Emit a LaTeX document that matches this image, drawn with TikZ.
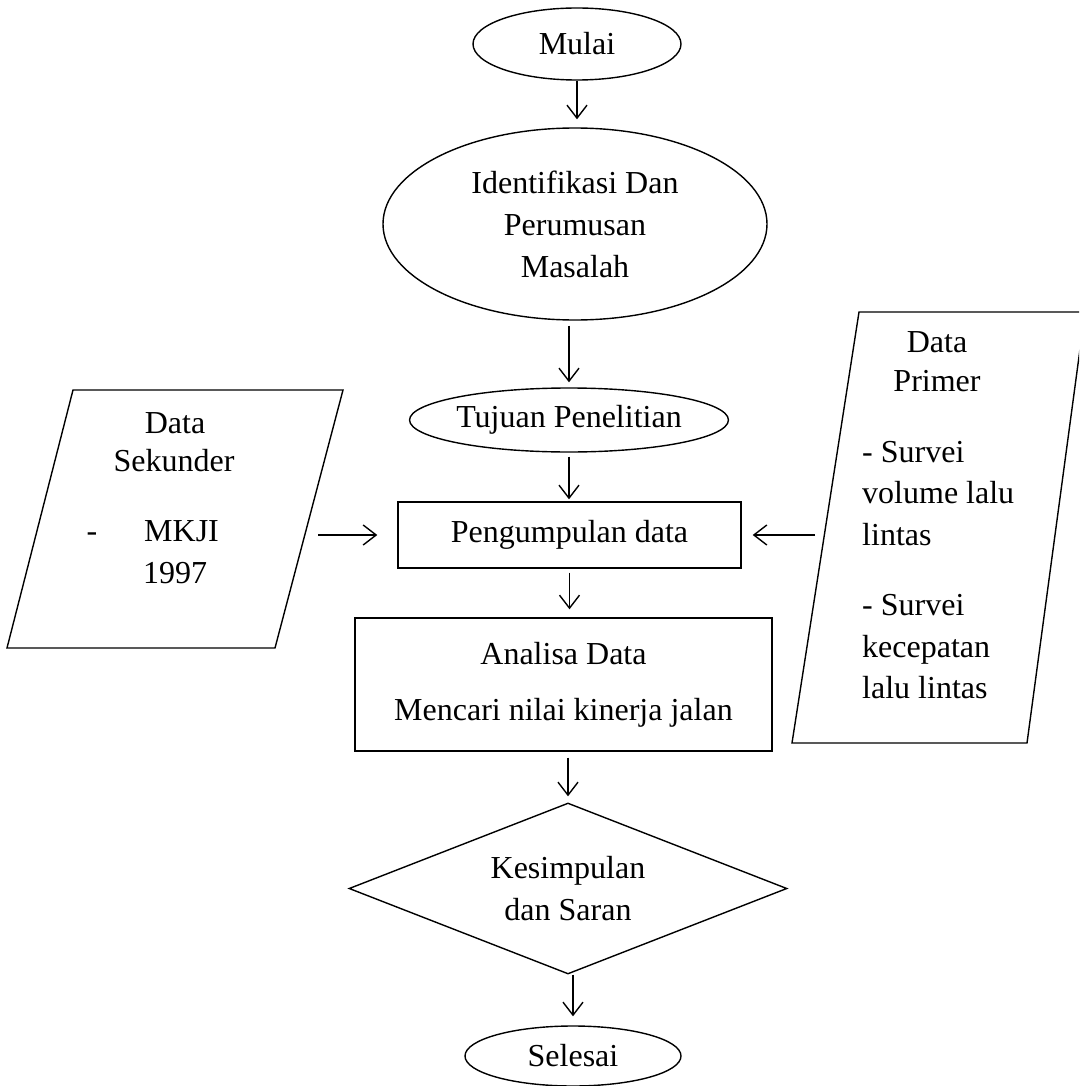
\documentclass[tikz,border=0pt]{standalone}
\usepackage{fontspec}
\setmainfont{Liberation Serif}
\usetikzlibrary{shapes.geometric,arrows.meta}
\begin{document}
\begin{tikzpicture}[x=1pt,y=-1pt,
  every node/.style={font=\fontsize{32}{42}\selectfont},
  outline/.style={draw, line width=1.4pt},
  box/.style={outline, inner sep=0pt},
  oval/.style={box, ellipse, align=center},
  rectbox/.style={box, rectangle, align=center},
  arr/.style={line width=1.4pt, -{Straight Barb[length=13pt,width=20pt,line width=1.4pt]}},
  txt/.style={anchor=base, inner sep=0pt},
  ltxt/.style={anchor=base west, inner sep=0pt}]
\clip (0,0) rectangle (1079,1086);

% main column
\node[oval, minimum width=208pt, minimum height=72pt] (mulai) at (577,44) {Mulai};
\node[oval, minimum width=384pt, minimum height=192pt] (ident) at (575,224) {Identifikasi Dan\\Perumusan\\Masalah};
\node[oval, minimum width=311pt, minimum height=64pt] (tujuan) at (569,420) {Tujuan Penelitian};
\node[rectbox, minimum width=343pt, minimum height=66pt] (kumpul) at (569.5,535) {Pengumpulan data};
\node[rectbox, minimum width=417pt, minimum height=133pt] (analisa) at (563.5,684.5) {Analisa Data\\[14pt]Mencari nilai kinerja jalan};
\node[box, diamond, aspect=2.56, minimum width=438pt, minimum height=171pt, align=center] (simpul) at (568,888.5) {Kesimpulan\\dan Saran};
\node[oval, minimum width=216pt, minimum height=60pt] (selesai) at (573,1056) {Selesai};

% Data Sekunder
\coordinate (sA) at (73,390);
\coordinate (sB) at (343,390);
\coordinate (sC) at (275,648);
\coordinate (sD) at (7,648);
\draw[outline] (sA) -- (sB) -- (sC) -- (sD) -- cycle;
\node[txt] (s1) at (175,433) {Data};
\node[txt] (s2) at (174,471) {Sekunder};
\node[txt] (s3) at (92,541) {-};
\node[ltxt] (s4) at (144,541) {MKJI};
\node[ltxt] (s5) at (143,583) {1997};
\coordinate (sE) at (318,535);

% Data Primer
\coordinate (pA) at (859,312);
\coordinate (pB) at (1085,312);
\coordinate (pC) at (1027,743);
\coordinate (pD) at (792,743);
\draw[outline] (pA) -- (pB) -- (pC) -- (pD) -- cycle;
\node[txt] (p1) at (937,352) {Data};
\node[txt] (p2) at (937,391) {Primer};
\node[ltxt] (p3) at (862,462) {- Survei};
\node[ltxt] (p4) at (862,503) {volume lalu};
\node[ltxt] (p5) at (862,545) {lintas};
\node[ltxt] (p6) at (862,615) {- Survei};
\node[ltxt] (p7) at (862,657) {kecepatan};
\node[ltxt] (p8) at (862,698) {lalu lintas};
\coordinate (pE) at (815,535);

% connectors
\draw[arr, shorten >=8pt] (mulai.south) -- (mulai.south |- ident.north);
\draw[arr, shorten <=5pt, shorten >=5pt] (tujuan.north |- ident.south) -- (tujuan.north);
\draw[arr, shorten <=4pt, shorten >=2pt] (tujuan.south) -- (tujuan.south |- kumpul.north);
\draw[arr, shorten <=4pt, shorten >=8pt] (kumpul.south) -- (kumpul.south |- analisa.north);
\draw[arr, shorten <=6pt, shorten >=6pt] (analisa.south -| simpul.north) -- (simpul.north);
\draw[arr, shorten >=9pt] (simpul.south -| selesai.north) -- (selesai.north);
\draw[arr, shorten >=20pt] (sE) -- (kumpul.west);
\draw[arr, shorten >=11pt] (pE) -- (kumpul.east);
\end{tikzpicture}
\end{document}
